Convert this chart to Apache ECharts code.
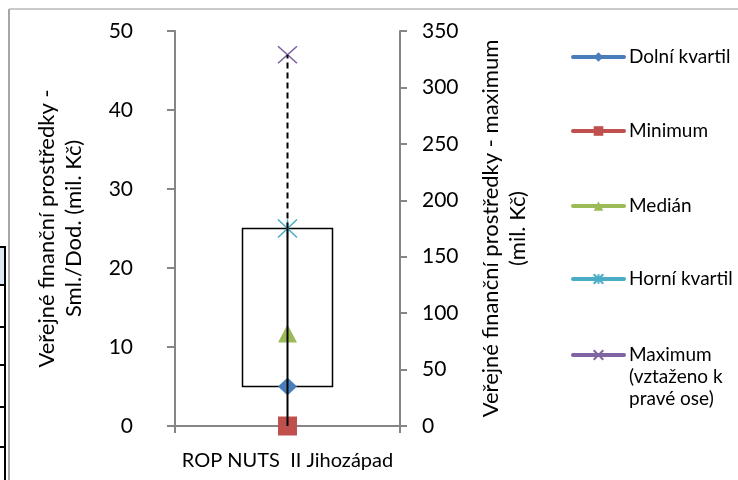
<!DOCTYPE html>
<html>
<head>
<meta charset="utf-8">
<title>Veřejné finanční prostředky</title>
<script src="https://cdn.jsdelivr.net/npm/echarts@6/dist/echarts.min.js"></script>
</head>
<body style="margin:0;background:#fff">
<div id="main" style="width:738px;height:480px;"></div>
<script>
// data
var categories = ['ROP NUTS  II Jihozápad'];
var seriesNames = ['Dolní kvartil', 'Minimum', 'Medián', 'Horní kvartil', 'Maximum\n(vztaženo k\npravé ose)'];
var lowerQuartile = [5];
var minimum = [0];
var median = [11.7];
var upperQuartile = [25];
var maximum = [329];          // vztaženo k pravé ose
var leftAxis = { min: 0, max: 50, interval: 10 };
var rightAxis = { min: 0, max: 350, interval: 50 };

var colors = ['#4a7ebb', '#c0504d', '#9bbb59', '#4bacc6', '#8064a2'];
var font = 'Lato';

var chartDom = document.getElementById('main');
var myChart = echarts.init(chartDom);

// maximum converted to left axis units so the whisker can be drawn in one series
var whiskerData = categories.map(function (c, i) {
    return [i, minimum[i], lowerQuartile[i], upperQuartile[i],
        maximum[i] * leftAxis.max / rightAxis.max];
});

function markerSeries(idx, values, symbol, size, axis, extra) {
    var s = {
        name: seriesNames[idx],
        type: 'line',
        yAxisIndex: axis,
        data: values,
        symbol: symbol,
        symbolSize: size,
        symbolKeepAspect: false,
        showSymbol: true,
        clip: false,
        z: 3,
        lineStyle: { color: colors[idx], width: 4, cap: 'round' },
        itemStyle: { color: colors[idx] }
    };
    if (extra) s.itemStyle = extra;
    return s;
}

var axisLineStyle = { color: '#868686', width: 2 };
// legend rows: icon centres at 57, 131, 206, 279, 355
var legendTops = [46, 120, 195, 268, 300];

var option = {
    animation: false,
    textStyle: { fontFamily: font },
    grid: { left: 175, right: 338, top: 31, bottom: 54 },
    legend: seriesNames.map(function (n, i) {
        return {
            data: [n],
            orient: 'vertical',
            left: 571,
            top: legendTops[i],
            padding: 0,
            itemWidth: 51,
            itemHeight: 12,
            selectedMode: false,
            lineStyle: { width: 4, cap: 'round' },
            // the long label starts at the icon, the rest hangs below it
            formatter: i === 4 ? function (name) { return '\n\n' + name; } : '{name}',
            textStyle: { fontFamily: font, fontSize: 19, color: '#000', lineHeight: 22 }
        };
    }),
    xAxis: {
        type: 'category',
        data: categories,
        axisLine: { lineStyle: axisLineStyle },
        axisTick: { show: true, length: 7, lineStyle: axisLineStyle },
        axisLabel: { fontFamily: font, fontSize: 20, color: '#000', margin: 25 }
    },
    yAxis: [
        {
            type: 'value',
            min: leftAxis.min, max: leftAxis.max, interval: leftAxis.interval,
            name: 'Veřejné finanční prostředky -\nSml./Dod. (mil. Kč)',
            nameLocation: 'middle',
            nameRotate: 90,
            nameGap: 88,
            nameTextStyle: { fontFamily: font, fontSize: 22, color: '#000', lineHeight: 27 },
            axisLine: { show: true, lineStyle: axisLineStyle },
            axisTick: { show: true, length: 8, lineStyle: axisLineStyle },
            axisLabel: { fontFamily: font, fontSize: 21, color: '#000', margin: 42 },
            splitLine: { show: false }
        },
        {
            type: 'value',
            position: 'right',
            min: rightAxis.min, max: rightAxis.max, interval: rightAxis.interval,
            name: 'Veřejné finanční prostředky - maximum\n(mil. Kč)',
            nameLocation: 'middle',
            nameRotate: 90,
            nameGap: 77,
            nameTextStyle: { fontFamily: font, fontSize: 22, color: '#000', lineHeight: 27 },
            axisLine: { show: true, lineStyle: axisLineStyle },
            axisTick: { show: true, length: 7, lineStyle: axisLineStyle },
            axisLabel: { fontFamily: font, fontSize: 21, color: '#000', margin: 22 },
            splitLine: { show: false }
        }
    ],
    series: [
        {
            type: 'custom',
            z: 1,
            silent: true,
            data: whiskerData,
            renderItem: function (params, api) {
                var x = api.value(0);
                var pLow = api.coord([x, api.value(2)]);
                var pHigh = api.coord([x, api.value(3)]);
                var w = api.size([1, 0])[0] * 0.4;
                return {
                    type: 'rect',
                    shape: { x: pLow[0] - w / 2, y: pHigh[1], width: w, height: pLow[1] - pHigh[1] },
                    style: { fill: 'none', stroke: '#000', lineWidth: 1.5 }
                };
            }
        },
        {
            type: 'custom',
            z: 5,
            silent: true,
            data: whiskerData,
            renderItem: function (params, api) {
                var x = api.value(0);
                var pMin = api.coord([x, api.value(1)]);
                var pHigh = api.coord([x, api.value(3)]);
                var pMax = api.coord([x, api.value(4)]);
                return {
                    type: 'group',
                    children: [
                        {
                            type: 'line',
                            shape: { x1: pMin[0], y1: pMin[1], x2: pHigh[0], y2: pHigh[1] },
                            style: { stroke: '#000', lineWidth: 2 }
                        },
                        {
                            type: 'line',
                            shape: { x1: pHigh[0], y1: pHigh[1], x2: pMax[0], y2: pMax[1] },
                            style: { stroke: '#000', lineWidth: 2, lineDash: [6, 4] }
                        }
                    ]
                };
            }
        },
        markerSeries(0, lowerQuartile, 'diamond', [19, 18], 0),
        markerSeries(1, minimum, 'rect', [19, 19], 0),
        markerSeries(2, median, 'triangle', [19, 18], 0),
        markerSeries(3, upperQuartile, 'path://M0,0L10,10M10,0L0,10M5,0L5,10', [19, 18], 0,
            { color: 'none', borderColor: colors[3], borderWidth: 1.5 }),
        markerSeries(4, maximum, 'path://M0,0L10,10M10,0L0,10', [19, 17], 1,
            { color: 'none', borderColor: colors[4], borderWidth: 1.5 })
    ],
    graphic: [
        // edge of the spreadsheet and chart frame left of the plot
        { type: 'line', silent: true, shape: { x1: 9, y1: 9, x2: 9, y2: 480 }, style: { stroke: '#a6a6a6', lineWidth: 2 } },
        { type: 'line', silent: true, shape: { x1: 9, y1: 9, x2: 738, y2: 9 }, style: { stroke: '#b8b8b8', lineWidth: 1.5 } },
        { type: 'rect', silent: true, shape: { x: 0, y: 248, width: 5, height: 36 }, style: { fill: '#dce6f2' } },
        { type: 'line', silent: true, shape: { x1: 5, y1: 247, x2: 5, y2: 480 }, style: { stroke: '#000', lineWidth: 2 } },
        { type: 'line', silent: true, shape: { x1: 0, y1: 247, x2: 6, y2: 247 }, style: { stroke: '#000', lineWidth: 2 } },
        { type: 'line', silent: true, shape: { x1: 0, y1: 285, x2: 6, y2: 285 }, style: { stroke: '#000', lineWidth: 2 } },
        { type: 'line', silent: true, shape: { x1: 0, y1: 327, x2: 6, y2: 327 }, style: { stroke: '#000', lineWidth: 2 } },
        { type: 'line', silent: true, shape: { x1: 0, y1: 365, x2: 6, y2: 365 }, style: { stroke: '#000', lineWidth: 2 } },
        { type: 'line', silent: true, shape: { x1: 0, y1: 407, x2: 6, y2: 407 }, style: { stroke: '#000', lineWidth: 2 } },
        { type: 'line', silent: true, shape: { x1: 0, y1: 447, x2: 6, y2: 447 }, style: { stroke: '#000', lineWidth: 2 } }
    ]
};

myChart.setOption(option);
</script>
</body>
</html>
